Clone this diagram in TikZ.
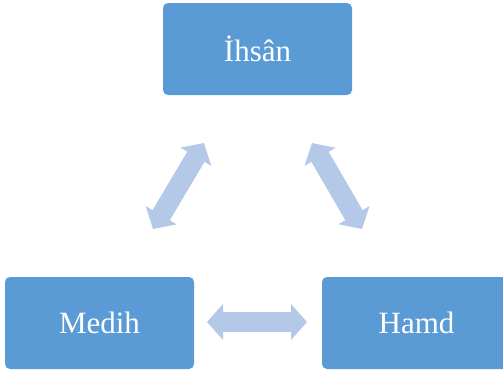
\documentclass[tikz,border=0pt]{standalone}
\usepackage{fontspec}
\setmainfont{Liberation Serif}
\usepackage{tikz}
\usetikzlibrary{arrows.meta}
\definecolor{boxblue}{RGB}{91,155,213}
\definecolor{arrowblue}{RGB}{180,200,232}
\tikzstyle{box} = [fill=boxblue, rounded corners=5pt, minimum width=189pt, minimum height=92pt, inner sep=0pt, text=white, font=\fontsize{31}{37}\selectfont]
\tikzstyle{dbl} = [draw=arrowblue, line width=20pt, {Triangle[width=35pt,length=16pt]}-{Triangle[width=35pt,length=16pt]}]

\begin{document}
\begin{tikzpicture}[x=1pt,y=-1pt]
\clip (0,0) rectangle (503,373);

\node[box] (ihsan) at (257.5,49) {İhsân};
\node[box] (medih) at (99.5,323) {Medih};
\node[box] (hamd) at (416.5,323) {Hamd};

\coordinate (l1) at (153,229);
\coordinate (l2) at (204,143);
\coordinate (r1) at (312,143);
\coordinate (r2) at (362,229);
\coordinate (m1) at (207,322);
\coordinate (m2) at (307,322);

\path
(l1) edge [dbl] (l2)
(r1) edge [dbl] (r2)
(m1) edge [dbl] (m2);
\end{tikzpicture}
\end{document}
